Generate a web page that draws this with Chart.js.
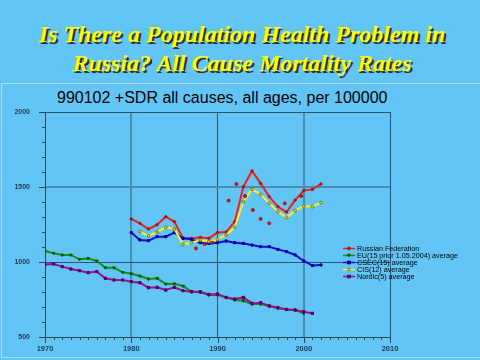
<!DOCTYPE html>
<html><head><meta charset="utf-8">
<script src="https://cdn.jsdelivr.net/npm/chart.js@4"></script>
<style>
html,body{margin:0;padding:0;background:#63C5F6;width:480px;height:360px;overflow:hidden;}
#frame{position:absolute;left:1px;top:83px;width:482px;height:275px;border:1px solid #A8DEFA;box-sizing:border-box;}
#title{position:absolute;left:0;top:20px;width:484px;text-align:center;font:italic bold 24px "Liberation Serif","Times New Roman",serif;line-height:29px;color:#FFFF00;text-shadow:2px 2px 0 #2e2e2e;}
#sub{position:absolute;left:57px;top:89px;font:16px "Liberation Sans",Arial,sans-serif;color:#000;white-space:nowrap;}
#c{position:absolute;left:0;top:0;}
#legend{position:absolute;left:343px;top:245px;font:7.2px "Liberation Sans",Arial,sans-serif;color:#000;line-height:7px;white-space:nowrap;}
#legend div{height:7px;display:flex;align-items:center;}
#legend svg{margin-right:2px;}
</style>
</head><body>
<div id="frame"></div>
<div id="title">Is There a Population Health Problem in<br>Russia? All Cause Mortality Rates</div>
<div id="sub">990102 +SDR all causes, all ages, per 100000</div>
<canvas id="c" width="480" height="360"></canvas>
<div id="legend"></div>
<script>
// ---- data ----
const yearsRussia = [1980,1981,1982,1983,1984,1985,1986,1987,1988,1989,1990,1991,1992,1993,1994,1995,1996,1997,1998,1999,2000,2001,2002];
const russia = [1287,1258,1220,1249,1302,1269,1158,1158,1164,1158,1196,1200,1269,1502,1607,1524,1436,1369,1333,1413,1476,1484,1520];

const yearsEU = [1970,1971,1972,1973,1974,1975,1976,1977,1978,1979,1980,1981,1982,1983,1984,1985,1986,1987,1988,1989,1990,1991,1992,1993,1994,1995,1996,1997,1998,1999,2000];
const eu = [1073,1058,1047,1047,1018,1024,1007,962,962,931,922,907,887,891,853,855,840,802,798,780,780,764,747,742,720,720,707,691,684,680,658];

const yearsCSEC = [1980,1981,1982,1983,1984,1985,1986,1987,1988,1989,1990,1991,1992,1993,1994,1995,1996,1997,1998,1999,2000,2001,2002];
const csec = [1196,1147,1142,1169,1169,1196,1158,1151,1129,1124,1129,1140,1129,1124,1113,1102,1102,1084,1069,1047,1007,976,980];

const yearsCIS = [1981,1982,1983,1984,1985,1986,1987,1988,1989,1990,1991,1992,1993,1994,1995,1996,1997,1998,1999,2000,2001,2002];
const cis = [1202,1173,1200,1231,1220,1118,1129,1147,1136,1151,1180,1231,1402,1484,1451,1391,1336,1296,1342,1373,1369,1396];

const yearsNordic = [1970,1971,1972,1973,1974,1975,1976,1977,1978,1979,1980,1981,1982,1983,1984,1985,1986,1987,1988,1989,1990,1991,1992,1993,1994,1995,1996,1997,1998,1999,2000,2001];
const nordic = [984,987,969,953,942,929,936,891,880,880,869,862,829,831,813,831,809,802,802,784,787,764,753,764,724,729,707,696,684,680,669,658];

// stray red points
const strayX = [1987.5,1988.5,1989.4,1991.3,1992.2,1993.2,1994.1,1995,1996,1997.8,1999.7];
const strayY = [1091,1120,1129,1410,1520,1440,1347,1287,1258,1391,1440];

const seriesLabels = ["Russian Federation","EU(15 prior 1.05.2004) average","CSEC(15) average","CIS(12) average","Nordic(5) average"];
const xTicks = [1970,1980,1990,2000,2010];
const yTicks = [500,1000,1500,2000];

// ---- styles ----
const lineColors = ["#F01E1E","#149014","#0A0AE6","#F2F22A","#9A0F9A"];
const markerFill = ["#B01010","#0C5A0C","#0000A0","#E0E020","#6A086A"];
const markerBorder = ["#B01010","#0C4A0C","#000080","#707030","#500050"];
const markerStyle = ["circle","triangle","rect","circle","rect"];
const markerRot = [0,180,0,0,0];
const markerRad = [1.2,1.6,1.5,1.4,1.6];

const pts = (xs, ys) => xs.map((x,i)=>({x:x,y:ys[i]}));
const seriesData = [pts(yearsRussia,russia),pts(yearsEU,eu),pts(yearsCSEC,csec),pts(yearsCIS,cis),pts(yearsNordic,nordic)];
const orders = [5,4,3,2,1];

const datasets = seriesData.map((d,i)=>({
  label: seriesLabels[i], data: d, borderColor: lineColors[i], borderWidth: 2,
  pointStyle: markerStyle[i], pointRotation: markerRot[i], pointRadius: markerRad[i],
  pointBackgroundColor: markerFill[i], pointBorderColor: markerBorder[i], pointBorderWidth: 1,
  tension: 0, order: orders[i], fill: false
}));
datasets.push({label:'stray', data: pts(strayX,strayY), showLine:false, pointRadius:1.5,
  pointBackgroundColor:'#D01818', pointBorderColor:'#A01010', pointBorderWidth:1, borderColor:'#D01818', order:0});

const axisColor = '#27465A';
const darkGrid = '#2E5468';
const lightGrid = '#4A8CAC';

const minorTicks = {
  id:'minorTicks',
  beforeDatasetsDraw(chart){
    const ctx = chart.ctx, xs = chart.scales.x, ys = chart.scales.y;
    ctx.save(); ctx.strokeStyle = axisColor; ctx.lineWidth = 1;
    for (let v = yTicks[0]; v <= yTicks[yTicks.length-1]; v += 100){
      const y = Math.round(ys.getPixelForValue(v)) + 0.5;
      const len = (v % 500 === 0) ? 6 : 3;
      ctx.beginPath(); ctx.moveTo(xs.left - len, y); ctx.lineTo(xs.left, y); ctx.stroke();
    }
    for (let v = xTicks[0]; v <= xTicks[xTicks.length-1]; v += 1){
      const x = Math.round(xs.getPixelForValue(v)) + 0.5;
      const len = (v % 10 === 0) ? 6 : 3;
      ctx.beginPath(); ctx.moveTo(x, ys.bottom); ctx.lineTo(x, ys.bottom + len); ctx.stroke();
    }
    ctx.restore();
  }
};

new Chart(document.getElementById('c'), {
  type: 'line',
  data: { datasets: datasets },
  options: {
    responsive: false, animation: false, devicePixelRatio: 1,
    layout: { padding: { left: 0, top: 112, right: 90, bottom: 0 } },
    plugins: { legend: { display: false }, title: { display: false }, tooltip: { enabled: false } },
    scales: {
      x: {
        type: 'linear', min: xTicks[0], max: xTicks[xTicks.length-1],
        afterFit(s){ s.height = 23; },
        afterBuildTicks(s){ s.ticks = xTicks.map(v=>({value:v})); },
        ticks: { padding: 7, color: '#1E3A50', font: { family: 'Liberation Sans, Arial', size: 7.5, weight: 'bold' }, maxRotation: 0,
                 callback: v => String(v) },
        grid: { drawTicks: false, color: c => (c.tick && (c.tick.value===1980||c.tick.value===2000)) ? lightGrid : darkGrid,
                lineWidth: c => (c.tick && (c.tick.value===1980||c.tick.value===2000)) ? 2 : 1 },
        border: { color: axisColor, width: 1 }
      },
      y: {
        type: 'linear', min: yTicks[0], max: yTicks[yTicks.length-1],
        afterFit(s){ s.width = 45; },
        afterBuildTicks(s){ s.ticks = yTicks.map(v=>({value:v})); },
        ticks: { padding: 15, color: '#1E3A50', font: { family: 'Liberation Sans, Arial', size: 7, weight: 'bold' },
                 callback: v => String(v) },
        grid: { drawTicks: false, color: c => (c.tick && c.tick.value===1500) ? lightGrid : darkGrid,
                lineWidth: c => (c.tick && c.tick.value===1500) ? 2 : 1 },
        border: { color: axisColor, width: 1 }
      }
    }
  },
  plugins: [minorTicks]
});

// legend
const lg = document.getElementById('legend');
seriesLabels.forEach((lab,i)=>{
  const row = document.createElement('div');
  let m;
  if (markerStyle[i]==='circle') m = `<circle cx="6" cy="3.5" r="1.4" fill="${markerFill[i]}" stroke="${markerBorder[i]}" stroke-width="0.8"/>`;
  else if (markerStyle[i]==='rect') m = `<rect x="4.6" y="2.1" width="2.8" height="2.8" fill="${markerFill[i]}" stroke="${markerBorder[i]}" stroke-width="0.8"/>`;
  else m = `<polygon points="4.4,2.2 7.6,2.2 6,4.8" fill="${markerFill[i]}" stroke="${markerBorder[i]}" stroke-width="0.8"/>`;
  row.innerHTML = `<svg width="12" height="7"><line x1="0" y1="3.5" x2="12" y2="3.5" stroke="${lineColors[i]}" stroke-width="1.5"/>${m}</svg><span>${lab}</span>`;
  lg.appendChild(row);
});
</script>
</body></html>
